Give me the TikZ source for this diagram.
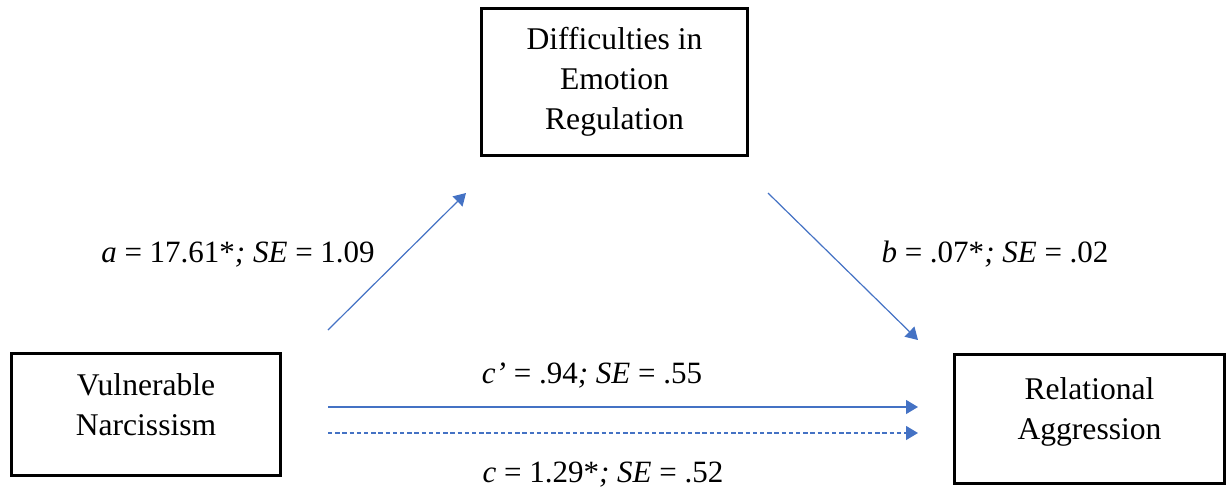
\documentclass[tikz,border=0pt]{standalone}
\usepackage{fontspec}
\setmainfont{Liberation Serif}
\usetikzlibrary{arrows.meta,positioning}
\definecolor{pathblue}{HTML}{4472C4}

\begin{document}
\begin{tikzpicture}[
        x=0.5pt, y=-0.5pt,
        box/.style={
            draw,
            line width=1.5pt,
            align=center,
            inner sep=0pt,
            font=\fontsize{15.8}{20}\selectfont
        },
        coef/.style={
            anchor=base,
            inner sep=0pt,
            font=\fontsize{15.5}{20}\selectfont
        },
        effect/.style={
            draw=pathblue,
            line width=0.6pt,
            -{Triangle[length=6pt,width=7pt,fill=pathblue]}
        },
        total/.style={effect, dash pattern=on 2.2pt off 1.4pt}
    ]

        \useasboundingbox (0,0) rectangle (1228,489);

        \node[box, minimum width=133pt, minimum height=73.5pt]
            (der) at (614.5,82) {Difficulties in\\Emotion\\Regulation};
        % Lower boxes: a deep strut lifts the two lines a little.
        \node[box, minimum width=134.5pt, minimum height=61pt]
            (vn) at (146,414.5)
            {Vulnerable\\Narcissism\rule[-10pt]{0pt}{10pt}};
        \node[box, minimum width=135pt, minimum height=64.5pt]
            (ra) at (1089.5,419)
            {Relational\\Aggression\rule[-10pt]{0pt}{10pt}};

        % Arrows float between the boxes, so fix their ends by hand.
        \coordinate (a0) at (328,330);
        \coordinate (a1) at (466,193);
        \coordinate (b0) at (768,193);
        \coordinate (b1) at (918,340);
        \coordinate (cp0) at (328,407);
        \coordinate (cp1) at (918,407);
        \coordinate (c0) at (328,433);
        \coordinate (c1) at (918,433);

        \draw[effect] (a0) -- (a1);
        \draw[effect] (b0) -- (b1);
        \draw[effect] (cp0) -- (cp1);
        \draw[total] (c0) -- (c1);

        \node[coef] (alab) at (238,262)
            {\textit{a} = 17.61*\textit{; SE} = 1.09};
        \node[coef] (blab) at (995,262)
            {\textit{b} = .07*\textit{; SE} = .02};
        \node[coef] (cplab) at (592,383)
            {\textit{c’} = .94\textit{; SE} = .55};
        \node[coef] (clab) at (603,482)
            {\textit{c} = 1.29*\textit{; SE} = .52};

    \end{tikzpicture}
\end{document}
